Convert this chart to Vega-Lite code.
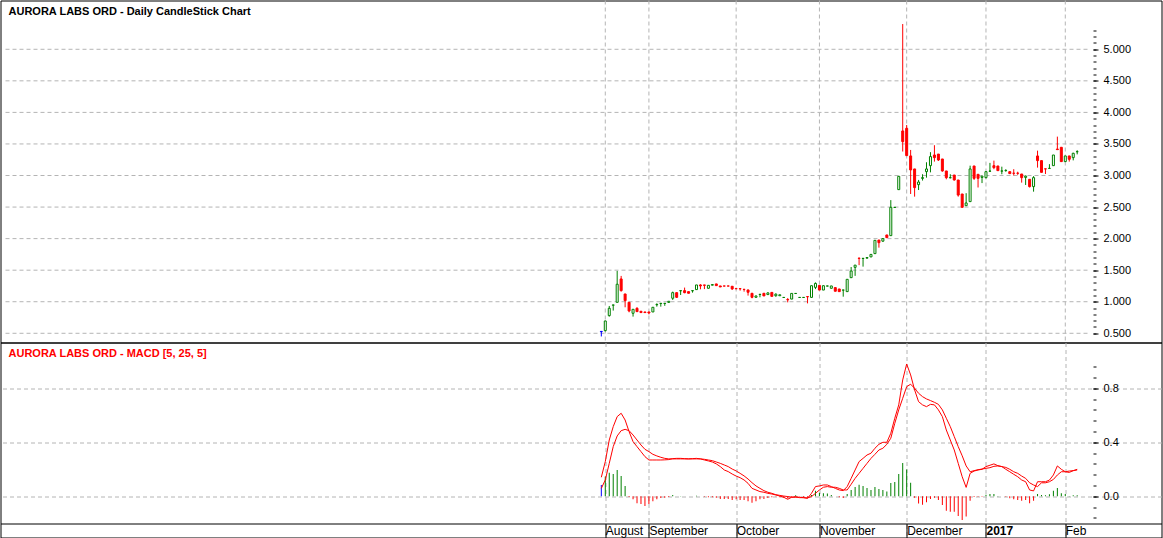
{
  "$schema": "https://vega.github.io/schema/vega-lite/v6.json",
  "background": "white",
  "padding": {"left": -0.5, "top": -0.5, "right": 0, "bottom": 0},
  "spacing": 0,
  "bounds": "flush",
  "config": {
    "view": {"stroke": "#000000", "strokeWidth": 1},
    "font": "Liberation Sans",
    "axis": {"labelFont": "Liberation Sans", "labelFontSize": 11, "labelColor": "#000000", "tickColor": "#000000", "domainColor": "#000000", "grid": false}
  },
  "datasets": {
    "cd": [
      {"k":0,"o":0.53,"h":0.535,"l":0.45,"c":0.525,"d":"n"},
      {"k":1,"o":0.542,"h":0.70,"l":0.53,"c":0.695,"d":"u"},
      {"k":2,"o":0.78,"h":0.933,"l":0.764,"c":0.896,"d":"u"},
      {"k":3,"o":0.945,"h":0.95,"l":0.86,"c":0.949,"d":"u"},
      {"k":4,"o":0.991,"h":1.488,"l":0.991,"c":1.277,"d":"u"},
      {"k":5,"o":1.361,"h":1.409,"l":1.16,"c":1.176,"d":"d"},
      {"k":6,"o":1.123,"h":1.123,"l":0.912,"c":1.018,"d":"d"},
      {"k":7,"o":0.991,"h":0.991,"l":0.833,"c":0.854,"d":"d"},
      {"k":8,"o":0.817,"h":0.88,"l":0.764,"c":0.88,"d":"u"},
      {"k":9,"o":0.896,"h":0.912,"l":0.838,"c":0.843,"d":"d"},
      {"k":10,"o":0.849,"h":0.849,"l":0.828,"c":0.828,"d":"d"},
      {"k":11,"o":0.838,"h":0.838,"l":0.828,"c":0.828,"d":"d"},
      {"k":12,"o":0.838,"h":0.838,"l":0.80,"c":0.822,"d":"d"},
      {"k":13,"o":0.838,"h":0.912,"l":0.838,"c":0.912,"d":"u"},
      {"k":14,"o":0.952,"h":0.975,"l":0.922,"c":0.956,"d":"u"},
      {"k":15,"o":0.972,"h":0.975,"l":0.922,"c":0.975,"d":"u"},
      {"k":16,"o":0.972,"h":0.975,"l":0.935,"c":0.975,"d":"u"},
      {"k":17,"o":0.99,"h":1.007,"l":0.985,"c":1.007,"d":"u"},
      {"k":18,"o":1.055,"h":1.16,"l":1.028,"c":1.144,"d":"u"},
      {"k":19,"o":1.144,"h":1.144,"l":1.06,"c":1.07,"d":"d"},
      {"k":20,"o":1.173,"h":1.176,"l":1.107,"c":1.176,"d":"u"},
      {"k":21,"o":1.176,"h":1.224,"l":1.134,"c":1.144,"d":"d"},
      {"k":22,"o":1.16,"h":1.16,"l":1.134,"c":1.134,"d":"d"},
      {"k":23,"o":1.173,"h":1.176,"l":1.144,"c":1.176,"d":"u"},
      {"k":24,"o":1.192,"h":1.266,"l":1.192,"c":1.266,"d":"u"},
      {"k":25,"o":1.266,"h":1.277,"l":1.197,"c":1.25,"d":"d"},
      {"k":26,"o":1.266,"h":1.266,"l":1.20,"c":1.26,"d":"d"},
      {"k":27,"o":1.213,"h":1.26,"l":1.213,"c":1.26,"d":"u"},
      {"k":28,"o":1.262,"h":1.277,"l":1.262,"c":1.272,"d":"u"},
      {"k":29,"o":1.282,"h":1.282,"l":1.255,"c":1.255,"d":"d"},
      {"k":30,"o":1.25,"h":1.25,"l":1.234,"c":1.234,"d":"d"},
      {"k":31,"o":1.25,"h":1.25,"l":1.248,"c":1.248,"d":"d"},
      {"k":32,"o":1.25,"h":1.25,"l":1.248,"c":1.248,"d":"d"},
      {"k":33,"o":1.245,"h":1.245,"l":1.187,"c":1.203,"d":"d"},
      {"k":34,"o":1.208,"h":1.208,"l":1.205,"c":1.205,"d":"d"},
      {"k":35,"o":1.208,"h":1.208,"l":1.176,"c":1.205,"d":"d"},
      {"k":36,"o":1.197,"h":1.197,"l":1.16,"c":1.195,"d":"d"},
      {"k":37,"o":1.187,"h":1.187,"l":1.097,"c":1.15,"d":"d"},
      {"k":38,"o":1.134,"h":1.134,"l":1.055,"c":1.07,"d":"d"},
      {"k":39,"o":1.07,"h":1.092,"l":1.07,"c":1.092,"d":"u"},
      {"k":40,"o":1.115,"h":1.118,"l":1.07,"c":1.118,"d":"u"},
      {"k":41,"o":1.134,"h":1.134,"l":1.092,"c":1.092,"d":"d"},
      {"k":42,"o":1.113,"h":1.148,"l":1.113,"c":1.14,"d":"u"},
      {"k":43,"o":1.148,"h":1.148,"l":1.085,"c":1.085,"d":"d"},
      {"k":44,"o":1.095,"h":1.132,"l":1.08,"c":1.12,"d":"u"},
      {"k":45,"o":1.095,"h":1.11,"l":1.095,"c":1.11,"d":"u"},
      {"k":46,"o":1.067,"h":1.069,"l":1.067,"c":1.069,"d":"u"},
      {"k":47,"o":1.035,"h":1.058,"l":0.99,"c":1.03,"d":"d"},
      {"k":48,"o":1.042,"h":1.132,"l":1.042,"c":1.132,"d":"u"},
      {"k":49,"o":1.13,"h":1.132,"l":1.13,"c":1.132,"d":"u"},
      {"k":50,"o":1.067,"h":1.069,"l":1.067,"c":1.069,"d":"u"},
      {"k":51,"o":1.067,"h":1.069,"l":1.067,"c":1.069,"d":"u"},
      {"k":52,"o":1.082,"h":1.082,"l":0.974,"c":1.078,"d":"d"},
      {"k":53,"o":1.069,"h":1.254,"l":1.069,"c":1.254,"d":"u"},
      {"k":54,"o":1.227,"h":1.306,"l":1.2,"c":1.29,"d":"u"},
      {"k":55,"o":1.259,"h":1.259,"l":1.185,"c":1.185,"d":"d"},
      {"k":56,"o":1.185,"h":1.254,"l":1.185,"c":1.254,"d":"u"},
      {"k":57,"o":1.248,"h":1.25,"l":1.248,"c":1.25,"d":"u"},
      {"k":58,"o":1.213,"h":1.25,"l":1.213,"c":1.25,"d":"u"},
      {"k":59,"o":1.224,"h":1.224,"l":1.166,"c":1.166,"d":"d"},
      {"k":60,"o":1.202,"h":1.202,"l":1.16,"c":1.16,"d":"d"},
      {"k":61,"o":1.184,"h":1.186,"l":1.08,"c":1.186,"d":"u"},
      {"k":62,"o":1.16,"h":1.355,"l":1.16,"c":1.355,"d":"u"},
      {"k":63,"o":1.381,"h":1.55,"l":1.38,"c":1.487,"d":"u"},
      {"k":64,"o":1.545,"h":1.58,"l":1.41,"c":1.58,"d":"u"},
      {"k":65,"o":1.69,"h":1.70,"l":1.58,"c":1.686,"d":"d"},
      {"k":66,"o":1.685,"h":1.688,"l":1.556,"c":1.688,"d":"u"},
      {"k":67,"o":1.69,"h":1.70,"l":1.69,"c":1.70,"d":"u"},
      {"k":68,"o":1.71,"h":1.75,"l":1.71,"c":1.75,"d":"u"},
      {"k":69,"o":1.762,"h":1.973,"l":1.762,"c":1.973,"d":"u"},
      {"k":70,"o":1.978,"h":1.978,"l":1.857,"c":1.936,"d":"d"},
      {"k":71,"o":1.96,"h":2.0,"l":1.95,"c":2.0,"d":"u"},
      {"k":72,"o":2.058,"h":2.058,"l":2.015,"c":2.015,"d":"d"},
      {"k":73,"o":2.047,"h":2.61,"l":2.047,"c":2.496,"d":"u"},
      {"k":74,"o":2.494,"h":2.496,"l":2.494,"c":2.496,"d":"u"},
      {"k":75,"o":2.776,"h":2.987,"l":2.776,"c":2.987,"d":"u"},
      {"k":76,"o":3.706,"h":5.40,"l":3.38,"c":3.537,"d":"d"},
      {"k":77,"o":3.748,"h":3.80,"l":3.315,"c":3.315,"d":"d"},
      {"k":78,"o":3.31,"h":3.405,"l":2.707,"c":3.088,"d":"d"},
      {"k":79,"o":3.104,"h":3.104,"l":2.665,"c":2.808,"d":"d"},
      {"k":80,"o":2.855,"h":2.93,"l":2.77,"c":2.897,"d":"u"},
      {"k":81,"o":2.955,"h":3.02,"l":2.92,"c":2.966,"d":"u"},
      {"k":82,"o":3.061,"h":3.21,"l":2.966,"c":3.104,"d":"u"},
      {"k":83,"o":3.156,"h":3.37,"l":3.05,"c":3.30,"d":"u"},
      {"k":84,"o":3.325,"h":3.48,"l":3.22,"c":3.283,"d":"d"},
      {"k":85,"o":3.34,"h":3.34,"l":3.23,"c":3.246,"d":"d"},
      {"k":86,"o":3.262,"h":3.262,"l":3.06,"c":3.072,"d":"d"},
      {"k":87,"o":3.072,"h":3.072,"l":2.94,"c":2.966,"d":"d"},
      {"k":88,"o":2.964,"h":3.02,"l":2.955,"c":2.966,"d":"u"},
      {"k":89,"o":3.008,"h":3.008,"l":2.92,"c":2.929,"d":"d"},
      {"k":90,"o":2.929,"h":2.929,"l":2.665,"c":2.69,"d":"d"},
      {"k":91,"o":2.707,"h":2.707,"l":2.49,"c":2.496,"d":"d"},
      {"k":92,"o":2.522,"h":2.72,"l":2.522,"c":2.565,"d":"u"},
      {"k":93,"o":2.586,"h":3.156,"l":2.586,"c":3.104,"d":"u"},
      {"k":94,"o":3.151,"h":3.151,"l":2.93,"c":2.955,"d":"d"},
      {"k":95,"o":3.019,"h":3.019,"l":2.81,"c":2.955,"d":"d"},
      {"k":96,"o":2.97,"h":2.99,"l":2.88,"c":2.99,"d":"u"},
      {"k":97,"o":2.966,"h":3.061,"l":2.955,"c":3.061,"d":"u"},
      {"k":98,"o":3.068,"h":3.2,"l":3.06,"c":3.07,"d":"u"},
      {"k":99,"o":3.156,"h":3.236,"l":3.10,"c":3.125,"d":"d"},
      {"k":100,"o":3.151,"h":3.151,"l":3.077,"c":3.077,"d":"d"},
      {"k":101,"o":3.07,"h":3.14,"l":3.02,"c":3.072,"d":"u"},
      {"k":102,"o":3.078,"h":3.10,"l":3.06,"c":3.08,"d":"u"},
      {"k":103,"o":3.061,"h":3.061,"l":3.03,"c":3.03,"d":"d"},
      {"k":104,"o":3.037,"h":3.10,"l":3.0,"c":3.035,"d":"d"},
      {"k":105,"o":3.037,"h":3.06,"l":3.01,"c":3.035,"d":"d"},
      {"k":106,"o":3.024,"h":3.024,"l":2.887,"c":2.966,"d":"d"},
      {"k":107,"o":2.97,"h":3.0,"l":2.85,"c":2.99,"d":"u"},
      {"k":108,"o":2.94,"h":2.94,"l":2.81,"c":2.824,"d":"d"},
      {"k":109,"o":2.824,"h":2.99,"l":2.744,"c":2.966,"d":"u"},
      {"k":110,"o":3.31,"h":3.394,"l":3.125,"c":3.236,"d":"d"},
      {"k":111,"o":3.236,"h":3.236,"l":3.05,"c":3.05,"d":"d"},
      {"k":112,"o":3.106,"h":3.106,"l":3.024,"c":3.104,"d":"d"},
      {"k":113,"o":3.112,"h":3.18,"l":3.11,"c":3.114,"d":"u"},
      {"k":114,"o":3.156,"h":3.325,"l":3.156,"c":3.325,"d":"u"},
      {"k":115,"o":3.42,"h":3.616,"l":3.41,"c":3.41,"d":"d"},
      {"k":116,"o":3.447,"h":3.447,"l":3.22,"c":3.22,"d":"d"},
      {"k":117,"o":3.22,"h":3.31,"l":3.22,"c":3.31,"d":"u"},
      {"k":118,"o":3.31,"h":3.31,"l":3.22,"c":3.257,"d":"d"},
      {"k":119,"o":3.283,"h":3.36,"l":3.24,"c":3.352,"d":"u"},
      {"k":120,"o":3.376,"h":3.40,"l":3.335,"c":3.378,"d":"u"}
    ],
    "md": [
      {"k":0,"m":0.141,"s":0.059,"hist":0.084},
      {"k":1,"m":0.257,"s":0.121,"hist":0.146},
      {"k":2,"m":0.417,"s":0.244,"hist":0.175},
      {"k":3,"m":0.516,"s":0.368,"hist":0.165},
      {"k":4,"m":0.59,"s":0.447,"hist":0.195},
      {"k":5,"m":0.615,"s":0.486,"hist":0.151},
      {"k":6,"m":0.565,"s":0.496,"hist":0.077},
      {"k":7,"m":0.479,"s":0.486,"hist":-0.005},
      {"k":8,"m":0.405,"s":0.454,"hist":-0.022},
      {"k":9,"m":0.368,"s":0.417,"hist":-0.052},
      {"k":10,"m":0.331,"s":0.38,"hist":-0.057},
      {"k":11,"m":0.294,"s":0.348,"hist":-0.072},
      {"k":12,"m":0.269,"s":0.331,"hist":-0.057},
      {"k":13,"m":0.269,"s":0.311,"hist":-0.037},
      {"k":14,"m":0.269,"s":0.299,"hist":-0.022},
      {"k":15,"m":0.269,"s":0.289,"hist":-0.012},
      {"k":16,"m":0.27,"s":0.281,"hist":-0.01},
      {"k":17,"m":0.272,"s":0.277,"hist":-0.005},
      {"k":18,"m":0.279,"s":0.277,"hist":0.01},
      {"k":19,"m":0.281,"s":0.277,"hist":0.001},
      {"k":20,"m":0.281,"s":0.277,"hist":0.003},
      {"k":21,"m":0.279,"s":0.277,"hist":0.0},
      {"k":22,"m":0.277,"s":0.277,"hist":0.0},
      {"k":23,"m":0.279,"s":0.277,"hist":0.0},
      {"k":24,"m":0.281,"s":0.277,"hist":0.005},
      {"k":25,"m":0.277,"s":0.277,"hist":0.0},
      {"k":26,"m":0.269,"s":0.274,"hist":-0.003},
      {"k":27,"m":0.262,"s":0.269,"hist":-0.007},
      {"k":28,"m":0.254,"s":0.264,"hist":-0.007},
      {"k":29,"m":0.24,"s":0.254,"hist":-0.01},
      {"k":30,"m":0.22,"s":0.244,"hist":-0.02},
      {"k":31,"m":0.195,"s":0.232,"hist":-0.02},
      {"k":32,"m":0.183,"s":0.22,"hist":-0.02},
      {"k":33,"m":0.165,"s":0.202,"hist":-0.027},
      {"k":34,"m":0.15,"s":0.188,"hist":-0.022},
      {"k":35,"m":0.138,"s":0.17,"hist":-0.027},
      {"k":36,"m":0.121,"s":0.151,"hist":-0.027},
      {"k":37,"m":0.096,"s":0.128,"hist":-0.037},
      {"k":38,"m":0.059,"s":0.101,"hist":-0.047},
      {"k":39,"m":0.047,"s":0.077,"hist":-0.037},
      {"k":40,"m":0.035,"s":0.059,"hist":-0.022},
      {"k":41,"m":0.03,"s":0.042,"hist":-0.02},
      {"k":42,"m":0.022,"s":0.03,"hist":-0.012},
      {"k":43,"m":0.017,"s":0.022,"hist":-0.007},
      {"k":44,"m":0.01,"s":0.012,"hist":-0.002},
      {"k":45,"m":0.002,"s":0.007,"hist":-0.007},
      {"k":46,"m":-0.007,"s":0.002,"hist":-0.01},
      {"k":47,"m":-0.022,"s":-0.002,"hist":-0.017},
      {"k":48,"m":-0.007,"s":-0.007,"hist":-0.005},
      {"k":49,"m":-0.002,"s":-0.007,"hist":0.007},
      {"k":50,"m":-0.01,"s":-0.007,"hist":-0.002},
      {"k":51,"m":-0.01,"s":-0.01,"hist":-0.007},
      {"k":52,"m":-0.015,"s":-0.012,"hist":-0.01},
      {"k":53,"m":0.022,"s":-0.002,"hist":0.01},
      {"k":54,"m":0.072,"s":0.022,"hist":0.042},
      {"k":55,"m":0.077,"s":0.047,"hist":0.027},
      {"k":56,"m":0.084,"s":0.067,"hist":0.022},
      {"k":57,"m":0.084,"s":0.072,"hist":0.02},
      {"k":58,"m":0.072,"s":0.067,"hist":0.01},
      {"k":59,"m":0.059,"s":0.067,"hist":0.0},
      {"k":60,"m":0.047,"s":0.059,"hist":-0.007},
      {"k":61,"m":0.042,"s":0.047,"hist":-0.012},
      {"k":62,"m":0.072,"s":0.047,"hist":0.017},
      {"k":63,"m":0.133,"s":0.089,"hist":0.047},
      {"k":64,"m":0.195,"s":0.133,"hist":0.069},
      {"k":65,"m":0.257,"s":0.17,"hist":0.086},
      {"k":66,"m":0.281,"s":0.207,"hist":0.077},
      {"k":67,"m":0.306,"s":0.244,"hist":0.062},
      {"k":68,"m":0.319,"s":0.281,"hist":0.047},
      {"k":69,"m":0.356,"s":0.311,"hist":0.069},
      {"k":70,"m":0.385,"s":0.343,"hist":0.054},
      {"k":71,"m":0.40,"s":0.356,"hist":0.047},
      {"k":72,"m":0.40,"s":0.385,"hist":0.035},
      {"k":73,"m":0.467,"s":0.43,"hist":0.099},
      {"k":74,"m":0.578,"s":0.54,"hist":0.106},
      {"k":75,"m":0.677,"s":0.64,"hist":0.165},
      {"k":76,"m":0.862,"s":0.726,"hist":0.247},
      {"k":77,"m":0.98,"s":0.812,"hist":0.198},
      {"k":78,"m":0.899,"s":0.83,"hist":0.101},
      {"k":79,"m":0.788,"s":0.80,"hist":-0.01},
      {"k":80,"m":0.701,"s":0.763,"hist":-0.054},
      {"k":81,"m":0.677,"s":0.738,"hist":-0.062},
      {"k":82,"m":0.664,"s":0.721,"hist":-0.044},
      {"k":83,"m":0.681,"s":0.709,"hist":-0.02},
      {"k":84,"m":0.677,"s":0.696,"hist":-0.01},
      {"k":85,"m":0.64,"s":0.681,"hist":-0.027},
      {"k":86,"m":0.59,"s":0.64,"hist":-0.064},
      {"k":87,"m":0.491,"s":0.578,"hist":-0.106},
      {"k":88,"m":0.417,"s":0.516,"hist":-0.114},
      {"k":89,"m":0.343,"s":0.442,"hist":-0.114},
      {"k":90,"m":0.244,"s":0.368,"hist":-0.146},
      {"k":91,"m":0.145,"s":0.30,"hist":-0.175},
      {"k":92,"m":0.066,"s":0.225,"hist":-0.15},
      {"k":93,"m":0.17,"s":0.182,"hist":-0.032},
      {"k":94,"m":0.187,"s":0.19,"hist":-0.005},
      {"k":95,"m":0.195,"s":0.197,"hist":-0.003},
      {"k":96,"m":0.2,"s":0.202,"hist":-0.003},
      {"k":97,"m":0.22,"s":0.207,"hist":0.012},
      {"k":98,"m":0.23,"s":0.212,"hist":0.017},
      {"k":99,"m":0.24,"s":0.222,"hist":0.017},
      {"k":100,"m":0.227,"s":0.225,"hist":0.002},
      {"k":101,"m":0.22,"s":0.22,"hist":0.0},
      {"k":102,"m":0.2,"s":0.214,"hist":-0.003},
      {"k":103,"m":0.182,"s":0.2,"hist":-0.015},
      {"k":104,"m":0.163,"s":0.182,"hist":-0.022},
      {"k":105,"m":0.145,"s":0.17,"hist":-0.027},
      {"k":106,"m":0.121,"s":0.15,"hist":-0.032},
      {"k":107,"m":0.108,"s":0.133,"hist":-0.027},
      {"k":108,"m":0.047,"s":0.10,"hist":-0.052},
      {"k":109,"m":0.04,"s":0.084,"hist":-0.032},
      {"k":110,"m":0.108,"s":0.072,"hist":0.017},
      {"k":111,"m":0.108,"s":0.10,"hist":0.01},
      {"k":112,"m":0.108,"s":0.10,"hist":0.007},
      {"k":113,"m":0.12,"s":0.108,"hist":0.015},
      {"k":114,"m":0.158,"s":0.125,"hist":0.042},
      {"k":115,"m":0.225,"s":0.158,"hist":0.062},
      {"k":116,"m":0.2,"s":0.182,"hist":0.022},
      {"k":117,"m":0.182,"s":0.182,"hist":0.017},
      {"k":118,"m":0.187,"s":0.177,"hist":0.002},
      {"k":119,"m":0.19,"s":0.19,"hist":0.007},
      {"k":120,"m":0.2,"s":0.195,"hist":0.007}
    ],
    "g1": [{"v":0.5},{"v":1.0},{"v":1.5},{"v":2.0},{"v":2.5},{"v":3.0},{"v":3.5},{"v":4.0},{"v":4.5},{"v":5.0}],
    "gx": [{"v":1},{"v":12},{"v":34},{"v":55},{"v":77},{"v":97},{"v":117}],
    "t1": [{"t":"AURORA LABS ORD - Daily CandleStick Chart"}],
    "t2": [{"t":"AURORA LABS ORD - MACD [5, 25, 5]"}]
  },
  "vconcat": [
    {
      "width": 1161,
      "height": 342,
      "layer": [
        {
          "data": {"name": "gx"},
          "mark": {"type": "rule", "color": "#b4b4b4", "strokeDash": [4, 3], "strokeWidth": 1},
          "encoding": {
            "x": {"field": "v", "type": "quantitative", "scale": {"domain": [-150.25, 140], "nice": false, "zero": false}, "axis": null}
          }
        },
        {
          "data": {"name": "g1"},
          "mark": {"type": "rule", "color": "#b4b4b4", "strokeDash": [4, 3], "strokeWidth": 1},
          "encoding": {
            "x": {"datum": -150.25, "type": "quantitative", "scale": {"domain": [-150.25, 140], "nice": false, "zero": false}, "axis": null},
            "x2": {"datum": 122.7},
            "y": {"field": "v", "type": "quantitative", "scale": {"domain": [0.354, 5.773], "nice": false, "zero": false}, "axis": null}
          }
        },
        {
          "data": {"name": "cd"},
          "mark": {"type": "rule", "strokeWidth": 1},
          "encoding": {
            "x": {"field": "k", "type": "quantitative", "scale": {"domain": [-150.25, 140], "nice": false, "zero": false}, "axis": null},
            "y": {"field": "l", "type": "quantitative", "scale": {"domain": [0.354, 5.773], "nice": false, "zero": false},
                  "axis": {"orient": "right", "offset": -68.5, "values": [0.5, 1.0, 1.5, 2.0, 2.5, 3.0, 3.5, 4.0, 4.5, 5.0], "format": ".3f", "tickSize": 5, "labelPadding": 5, "domain": false, "grid": false, "title": null}},
            "y2": {"field": "h"},
            "color": {"field": "d", "type": "nominal", "scale": {"domain": ["u", "d", "n"], "range": ["#008000", "#ff0000", "#0000ff"]}, "legend": null}
          }
        },
        {
          "data": {"name": "cd"},
          "mark": {"type": "bar", "width": 2, "strokeWidth": 1},
          "encoding": {
            "x": {"field": "k", "type": "quantitative", "scale": {"domain": [-150.25, 140], "nice": false, "zero": false}, "axis": null},
            "y": {"field": "o", "type": "quantitative", "scale": {"domain": [0.354, 5.773], "nice": false, "zero": false},
                  "axis": {"orient": "right", "offset": -68.5, "values": [0.5,0.6,0.7,0.8,0.9,1.0,1.1,1.2,1.3,1.4,1.5,1.6,1.7,1.8,1.9,2.0,2.1,2.2,2.3,2.4,2.5,2.6,2.7,2.8,2.9,3.0,3.1,3.2,3.3,3.4,3.5,3.6,3.7,3.8,3.9,4.0,4.1,4.2,4.3,4.4,4.5,4.6,4.7,4.8,4.9,5.0,5.1,5.2,5.3], "labels": false, "tickSize": 3, "domain": false, "grid": false, "title": null}},
            "y2": {"field": "c"},
            "fill": {"field": "d", "type": "nominal", "scale": {"domain": ["u", "d", "n"], "range": ["#ffffff", "#ff0000", "#0000ff"]}, "legend": null},
            "stroke": {"field": "d", "type": "nominal", "scale": {"domain": ["u", "d", "n"], "range": ["#008000", "#ff0000", "#0000ff"]}, "legend": null}
          }
        },
        {
          "data": {"name": "t1"},
          "mark": {"type": "text", "align": "left", "baseline": "alphabetic", "dx": 3, "dy": 14.5, "font": "Liberation Sans", "fontSize": 11, "fontWeight": "bold", "color": "#000000"},
          "encoding": {
            "x": {"datum": -150.25, "type": "quantitative", "scale": {"domain": [-150.25, 140], "nice": false, "zero": false}, "axis": null},
            "y": {"datum": 5.773, "type": "quantitative", "scale": {"domain": [0.354, 5.773], "nice": false, "zero": false}, "axis": null},
            "text": {"field": "t"}
          }
        },
        {
          "data": {"name": "t2"},
          "mark": {"type": "text", "align": "left", "baseline": "alphabetic", "dx": 3, "dy": 14.5, "font": "Liberation Sans", "fontSize": 11, "fontWeight": "bold", "color": "#ff0000"},
          "encoding": {
            "x": {"datum": -150.25, "type": "quantitative", "scale": {"domain": [-150.25, 140], "nice": false, "zero": false}, "axis": null},
            "y": {"datum": 0.354, "type": "quantitative", "scale": {"domain": [0.354, 5.773], "nice": false, "zero": false}, "axis": null},
            "text": {"field": "t"}
          }
        }
      ],
      "resolve": {"axis": {"y": "independent"}}
    },
    {
      "width": 1161,
      "height": 195,
      "encoding": {
        "x": {"field": "k", "type": "quantitative", "scale": {"domain": [-150.25, 140], "nice": false, "zero": false},
              "axis": {"orient": "bottom", "offset": -14, "values": [1, 12, 34, 55, 77, 97, 117], "tickSize": 14, "labelPadding": -12, "labelAlign": "left", "labelBaseline": "top", "labelDx": 2, "labelFontSize": 12, "labelOverlap": false, "labelFlush": false, "domain": true, "grid": true, "gridColor": "#b4b4b4", "gridDash": [4, 3], "title": null,
                       "labelExpr": "datum.value == 1 ? 'August' : datum.value == 12 ? 'September' : datum.value == 34 ? 'October' : datum.value == 55 ? 'November' : datum.value == 77 ? 'December' : datum.value == 97 ? '2017' : 'Feb'",
                       "labelFontWeight": {"condition": {"test": "datum.value == 97", "value": "bold"}, "value": "normal"}}}
      },
      "layer": [
        {
          "data": {"name": "md"},
          "mark": {"type": "bar", "width": 1, "strokeWidth": 0},
          "encoding": {
            "y": {"field": "hist", "type": "quantitative", "scale": {"domain": [-0.305, 1.139], "nice": false, "zero": false},
                  "axis": {"orient": "right", "offset": -68.5, "values": [0.0, 0.4, 0.8], "format": ".1f", "tickSize": 5, "labelPadding": 5, "domain": false, "grid": true, "gridColor": "#b4b4b4", "gridDash": [4, 3], "title": null}},
            "y2": {"datum": 0},
            "color": {"condition": [{"test": "datum.k == 0", "value": "#0000ff"}, {"test": "datum.hist >= 0", "value": "#008000"}], "value": "#ff0000"}
          }
        },
        {
          "data": {"name": "md"},
          "mark": {"type": "line", "color": "#ff0000", "strokeWidth": 1},
          "encoding": {
            "y": {"field": "s", "type": "quantitative", "scale": {"domain": [-0.305, 1.139], "nice": false, "zero": false},
                  "axis": {"orient": "right", "offset": -68.5, "values": [-0.16, -0.08, 0.0, 0.08, 0.16, 0.24, 0.32, 0.4, 0.48, 0.56, 0.64, 0.72, 0.8, 0.88, 0.96], "labels": false, "tickSize": 3, "domain": false, "grid": false, "title": null}}
          }
        },
        {
          "data": {"name": "md"},
          "mark": {"type": "line", "color": "#ff0000", "strokeWidth": 1},
          "encoding": {
            "y": {"field": "m", "type": "quantitative", "scale": {"domain": [-0.305, 1.139], "nice": false, "zero": false}, "axis": null}
          }
        }
      ],
      "resolve": {"axis": {"y": "independent"}}
    }
  ]
}
